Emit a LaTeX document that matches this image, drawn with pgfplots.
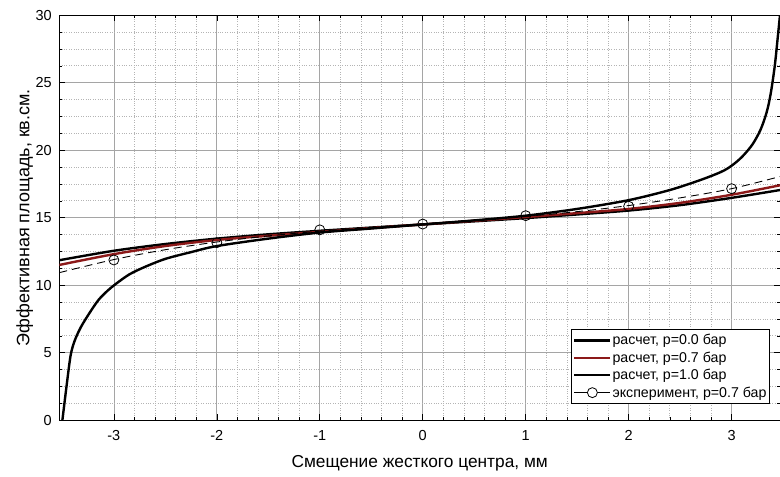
\documentclass[border=0pt]{standalone}
\usepackage{pgfplots}
\pgfplotsset{compat=1.18}
\usepackage{fontspec}
\setmainfont{Liberation Sans}
\definecolor{darkred}{RGB}{140,25,25}
\definecolor{majgrid}{RGB}{165,165,165}
\definecolor{mingrid}{RGB}{180,180,180}
\begin{document}
\begin{tikzpicture}[x=1pt,y=1pt]
\useasboundingbox (-59.3,-56.8) rectangle (720.7,420.2);
\begin{axis}[
  at={(0,0)}, anchor=south west,
  scale only axis, width=720.7pt, height=405pt,
  xmin=-3.53, xmax=3.47, ymin=0, ymax=30,
  xtick={-3,-2,-1,0,1,2,3}, ytick={0,5,10,15,20,25,30},
  minor x tick num=4, minor y tick num=3,
  grid=both,
  major grid style={majgrid, line width=0.7pt},
  minor grid style={mingrid, dotted, line width=0.7pt},
  tick style={black, line width=0.6pt},
  major tick length=6pt, minor tick length=3pt,
  tick align=inside,
  axis line style={black, line width=1pt},
  /pgf/number format/assume math mode=true,
  ticklabel style={font=\fontsize{14.5}{16}\selectfont},
  xticklabel style={yshift=-7pt},
  yticklabel style={xshift=-4pt},
  xlabel={Смещение жесткого центра, мм},
  ylabel={Эффективная площадь, кв.см.},
  xlabel style={font=\fontsize{17.3}{19}\selectfont, at={(axis description cs:0.5,-0.106)}, anchor=center},
  ylabel style={font=\fontsize{18}{20}\selectfont, at={(axis description cs:-0.048,0.5)}, anchor=center},
  legend style={at={(0.986,0.04)}, anchor=south east, draw=black, line width=0.8pt,
    font=\fontsize{14.2}{15}\selectfont, row sep=1.5pt, inner xsep=2pt, inner ysep=3pt, legend cell align=left,
    nodes={inner xsep=1pt}},
  legend image code/.code={\draw[#1] (0pt,0pt) -- (36pt,0pt);},
]
\addplot[black, line width=2.4pt, smooth] coordinates {
(-3.53,11.85) (-3.0,12.55) (-2.5,13.05) (-2.0,13.45) (-1.5,13.77) (-1.0,14.03) (-0.5,14.27)
(0,14.5) (0.5,14.73) (1.0,14.97) (1.5,15.24) (2.0,15.53) (2.5,15.93) (3.0,16.47) (3.47,17.05)};
\addlegendentry{расчет, p=0.0 бар}
\addplot[darkred, line width=2.4pt, smooth] coordinates {
(-3.53,11.5) (-3.0,12.3) (-2.5,12.9) (-2.0,13.35) (-1.5,13.66) (-1.0,13.95) (-0.5,14.23)
(0,14.5) (0.5,14.77) (1.0,15.05) (1.5,15.34) (2.0,15.65) (2.5,16.1) (3.0,16.7) (3.47,17.4)};
\addlegendentry{расчет, p=0.7 бар}
\addplot[black, line width=2.4pt, smooth, tension=0.5] coordinates {
(-3.50,0.0) (-3.46,2.5) (-3.42,4.8) (-3.38,5.9) (-3.32,6.9) (-3.24,7.9) (-3.15,8.9)
(-3.06,9.6) (-2.98,10.1) (-2.85,10.8) (-2.70,11.35) (-2.50,11.95) (-2.25,12.45)
(-2.00,12.9) (-1.50,13.45) (-1.00,13.9) (-0.50,14.2) (0,14.5) (0.5,14.8) (1.0,15.15)
(1.5,15.65) (2.0,16.3) (2.4,17.05) (2.7,17.8) (2.9,18.4) (3.0,18.85) (3.1,19.5)
(3.2,20.4) (3.28,21.5) (3.34,22.8) (3.38,24.2) (3.42,26.3) (3.45,28.5) (3.47,30.0)};
\addlegendentry{расчет, p=1.0 бар}
\addplot[black, line width=0.9pt, dash pattern=on 8pt off 5pt, smooth, forget plot] coordinates {
(-3.53,10.93) (-3.0,11.9) (-2.5,12.63) (-2.0,13.2) (-1.5,13.65) (-1.0,14.0) (-0.5,14.29)
(0,14.55) (0.5,14.81) (1.0,15.1) (1.5,15.45) (2.0,15.9) (2.5,16.47) (3.0,17.15) (3.47,18.05)};
\addplot[only marks, mark=o, mark size=5pt, mark options={black, fill=white, line width=0.8pt}, forget plot] coordinates {
(-3,11.87) (-2,13.15) (-1,14.1) (0,14.53) (1,15.15) (2,15.85) (3,17.15)};
\addlegendimage{legend image code/.code={\draw[black, line width=0.8pt] (0pt,0pt) -- (36pt,0pt); \draw[black, fill=white, line width=0.8pt] (18pt,0pt) circle (5pt);}}
\addlegendentry{эксперимент, p=0.7 бар}
\end{axis}
\end{tikzpicture}
\end{document}
